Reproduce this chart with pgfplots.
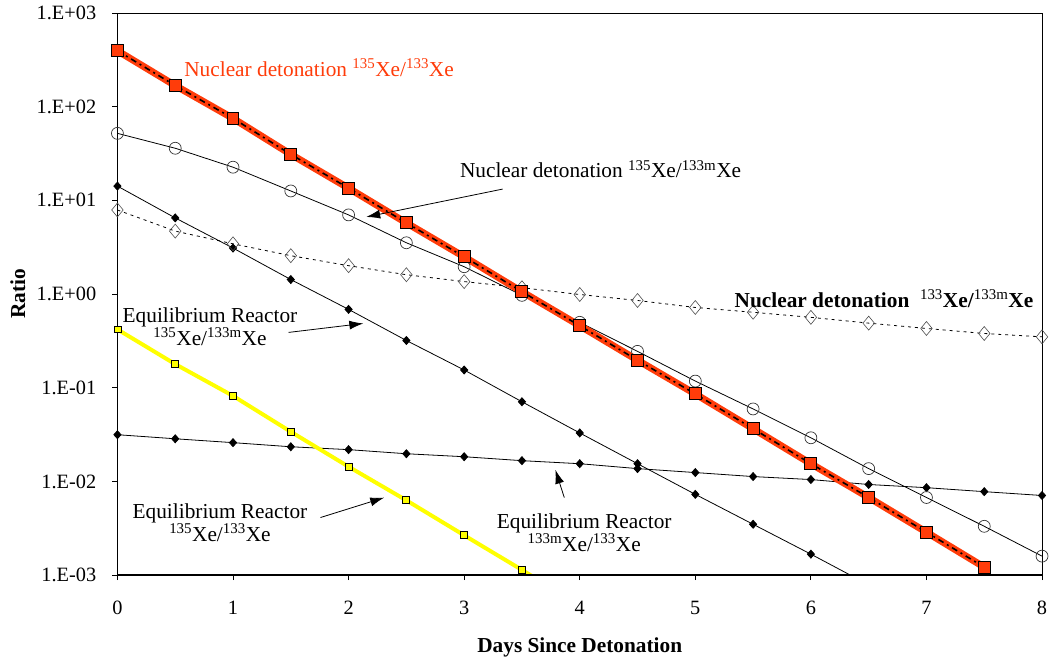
\documentclass[border=0pt]{standalone}
\usepackage{fontspec}
\setmainfont{Liberation Serif}
\usepackage{pgfplots}
\pgfplotsset{compat=1.18}
\usetikzlibrary{arrows.meta}
\definecolor{ndred}{RGB}{255,60,10}
\definecolor{eqyel}{RGB}{255,255,0}
\begin{document}
\fontsize{21.5}{23}\selectfont
\begin{tikzpicture}[>={Latex[length=14bp,width=9bp]}]
\useasboundingbox (-118bp,-83bp) rectangle (936bp,578bp);
\begin{axis}[
  at={(0,0)}, anchor=south west,
  scale only axis, width=929bp, height=565bp,
  xmin=0, xmax=8, ymode=log, ymin=1e-3, ymax=1e3,
  xtick={0,1,2,3,4,5,6,7,8},
  xticklabels={0,1,2,3,4,5,6,7,8},
  ytick={1e-3,1e-2,1e-1,1,10,100,1000},
  yticklabels={1.E-03,1.E-02,1.E-01,1.E+00,1.E+01,1.E+02,1.E+03},
  yminorticks=false,
  xtick pos=left, ytick pos=left,
  tick align=outside, major tick length=5bp,
  tick style={line width=0.8bp, black},
  axis line style={line width=0.8bp},
  ticklabel style={font=\fontsize{20.5}{23}\selectfont},
  xticklabel style={yshift=-14bp},
  yticklabel style={xshift=-9bp},
]
% Equilibrium reactor 133mXe/133Xe
\addplot[black, line width=0.8bp, mark=diamond*, mark size=4bp, mark options={xscale=1.2}] coordinates {
(0,0.0316) (0.5,0.0286) (1,0.026) (1.5,0.0235) (2,0.0219) (2.5,0.0198) (3,0.0184) (3.5,0.0167)
(4,0.0155) (4.5,0.01374) (5,0.01247) (5.5,0.0113) (6,0.0105) (6.5,0.0093) (7,0.0086) (7.5,0.0078) (8,0.0071)};
% Equilibrium reactor 135Xe/133mXe
\addplot[black, line width=0.8bp, mark=diamond*, mark size=4bp, mark options={xscale=1.2}] coordinates {
(0,14.2) (0.5,6.5) (1,3.1) (1.5,1.43) (2,0.687) (2.5,0.32) (3,0.155) (3.5,0.071)
(4,0.033) (4.5,0.0155) (5,0.0073) (5.5,0.0035) (6,0.00168) (6.5,0.00079)};
% Nuclear detonation 133Xe/133mXe
\addplot[black, line width=0.8bp, dash pattern=on 3bp off 4bp, mark=diamond, mark size=7bp,
  mark options={solid, xscale=1.1, line width=0.6bp, draw=black!70}] coordinates {
(0,7.9) (0.5,4.7) (1,3.44) (1.5,2.57) (2,2.01) (2.5,1.61) (3,1.36) (3.5,1.17)
(4,0.99) (4.5,0.855) (5,0.72) (5.5,0.64) (6,0.565) (6.5,0.49) (7,0.43) (7.5,0.38) (8,0.35)};
% Nuclear detonation 135Xe/133mXe
\addplot[black, line width=0.8bp, mark=o, mark size=6bp, mark options={draw=black!80, line width=0.7bp}] coordinates {
(0,51.9) (0.5,36) (1,22.6) (1.5,12.6) (2,7.0) (2.5,3.53) (3,1.96) (3.5,0.97)
(4,0.50) (4.5,0.245) (5,0.118) (5.5,0.0595) (6,0.0293) (6.5,0.01374) (7,0.00676) (7.5,0.00333) (8,0.0016)};
% Equilibrium reactor 135Xe/133Xe
\addplot[eqyel, line width=4bp, mark=square*, mark size=3.5bp, mark options={fill=eqyel, draw=black, line width=0.8bp}] coordinates {
(0,0.42) (0.5,0.179) (1,0.082) (1.5,0.034) (2,0.0144) (2.5,0.0063) (3,0.00267) (3.5,0.00114) (4,0.00048)};
% Nuclear detonation 135Xe/133Xe
\addplot[ndred, line width=7bp] coordinates {
(0,395) (0.5,168) (1,75) (1.5,31) (2,13.5) (2.5,5.75) (3,2.5) (3.5,1.06)
(4,0.46) (4.5,0.197) (5,0.086) (5.5,0.0366) (6,0.0155) (6.5,0.00676) (7,0.00288) (7.5,0.00122)};
\addplot[black, line width=1.6bp, dash pattern=on 6bp off 4bp on 2bp off 4bp] coordinates {
(0,395) (0.5,168) (1,75) (1.5,31) (2,13.5) (2.5,5.75) (3,2.5) (3.5,1.06)
(4,0.46) (4.5,0.197) (5,0.086) (5.5,0.0366) (6,0.0155) (6.5,0.00676) (7,0.00288) (7.5,0.00122)};
\addplot[only marks, mark=square*, mark size=6bp, mark options={fill=ndred, draw=black, line width=1bp}] coordinates {
(0,395) (0.5,168) (1,75) (1.5,31) (2,13.5) (2.5,5.75) (3,2.5) (3.5,1.06)
(4,0.46) (4.5,0.197) (5,0.086) (5.5,0.0366) (6,0.0155) (6.5,0.00676) (7,0.00288) (7.5,0.00122)};
\end{axis}
\draw[line width=2bp] (0,0) -- (929bp,0);
% axis labels
\node[font=\bfseries, rotate=90] at (-100bp,283bp) {Ratio};
\node[font=\bfseries] at (464.5bp,-72bp) {Days Since Detonation};
% annotations
\node[anchor=west, text=ndred, inner sep=0pt] at (67bp,510bp) {Nuclear detonation \textsuperscript{135}Xe/\textsuperscript{133}Xe};
\node[anchor=west, inner sep=0pt] at (344bp,408bp) {Nuclear detonation \textsuperscript{135}Xe/\textsuperscript{133m}Xe};
\draw[->, line width=0.8bp] (387bp,388bp) -- (250bp,360bp);
\node[anchor=west, inner sep=0pt] at (620bp,278bp) {\textbf{Nuclear detonation}\ \ \textsuperscript{133}\textbf{Xe/}\textsuperscript{133m}\textbf{Xe}};
\node[align=center, inner sep=0pt] at (93bp,250bp) {Equilibrium Reactor\\\textsuperscript{135}Xe/\textsuperscript{133m}Xe};
\draw[->, line width=0.8bp] (172bp,244bp) -- (247bp,253bp);
\node[align=center, inner sep=0pt] at (103bp,53bp) {Equilibrium Reactor\\\textsuperscript{135}Xe/\textsuperscript{133}Xe};
\draw[->, line width=0.8bp] (204bp,58bp) -- (268bp,78bp);
\node[align=center, inner sep=0pt] at (469bp,43bp) {Equilibrium Reactor\\\textsuperscript{133m}Xe/\textsuperscript{133}Xe};
\draw[->, line width=0.8bp] (449bp,78bp) -- (440bp,106bp);
\end{tikzpicture}
\end{document}
